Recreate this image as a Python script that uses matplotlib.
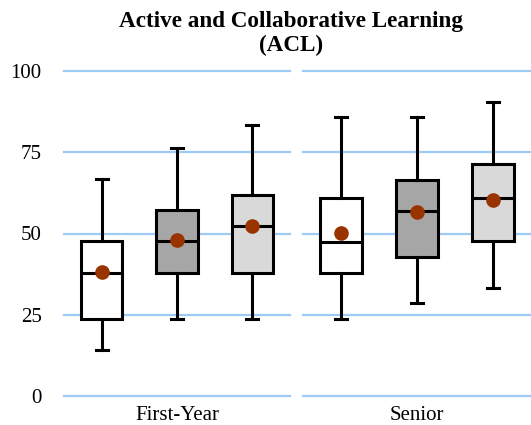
import matplotlib.pyplot as plt

plt.rcParams['font.family'] = ['Liberation Serif', 'DejaVu Serif']

# box statistics
groups = ["First-Year", "Senior"]
whislo = [[14.2, 23.7, 23.7], [23.7, 28.5, 33.3]]
q1 = [[23.7, 37.7, 37.7], [37.9, 42.9, 47.7]]
med = [[37.9, 47.8, 52.3], [47.5, 57.0, 60.9]]
q3 = [[47.8, 57.1, 61.8], [61.0, 66.5, 71.4]]
whishi = [[66.7, 76.2, 83.4], [85.7, 85.7, 90.5]]
means = [[38.1, 48.0, 52.3], [50.3, 56.5, 60.3]]
box_colors = ["#FFFFFF", "#A6A6A6", "#D9D9D9"]
yticks = [0, 25, 50, 75, 100]

fig = plt.figure(figsize=(5.31, 4.25), dpi=100)
W, H = 531, 425
panels = [(64, 290), (303, 531)]
bottom_px, top_px = 396, 71

for g, (x0, x1) in enumerate(panels):
    ax = fig.add_axes([x0 / W, (H - bottom_px) / H, (x1 - x0) / W, (bottom_px - top_px) / H])
    stats = []
    for i in range(3):
        stats.append(dict(whislo=whislo[g][i], q1=q1[g][i], med=med[g][i],
                          q3=q3[g][i], whishi=whishi[g][i], mean=means[g][i]))
    bp = ax.bxp(stats, positions=[1, 2, 3], widths=0.55, patch_artist=True,
                showmeans=True, showfliers=False,
                boxprops=dict(linewidth=2.2, edgecolor='black'),
                medianprops=dict(color='black', linewidth=2.2),
                whiskerprops=dict(color='black', linewidth=2.2),
                capprops=dict(color='black', linewidth=2.2),
                meanprops=dict(marker='o', markerfacecolor='#993300',
                               markeredgecolor='#993300', markersize=9.5))
    for patch, c in zip(bp['boxes'], box_colors):
        patch.set_facecolor(c)
    for cap in bp['caps']:
        xs = cap.get_xdata()
        mid = (xs[0] + xs[1]) / 2
        cap.set_xdata([mid - 0.08, mid + 0.08])
    for yv in yticks:
        ax.axhline(yv, color='#9DCBF5', linewidth=1.6, zorder=0, clip_on=False)
    ax.set_xlim(0.5, 3.5)
    ax.set_ylim(0, 100)
    for s in ax.spines.values():
        s.set_visible(False)
    ax.set_xticks([2])
    ax.set_xticklabels([groups[g]], fontsize=15)
    ax.tick_params(axis='x', length=0, pad=7)
    if g == 0:
        ax.set_yticks(yticks)
        ax.set_yticklabels([str(v) for v in yticks], fontsize=15)
        ax.tick_params(axis='y', length=0, pad=16)
    else:
        ax.set_yticks([])

fig.text(291 / W, 1 - 11 / H, "Active and Collaborative Learning\n(ACL)",
         ha='center', va='top', fontsize=16.7, fontweight='bold', linespacing=1.15)

fig.savefig("out.png", dpi=100)
